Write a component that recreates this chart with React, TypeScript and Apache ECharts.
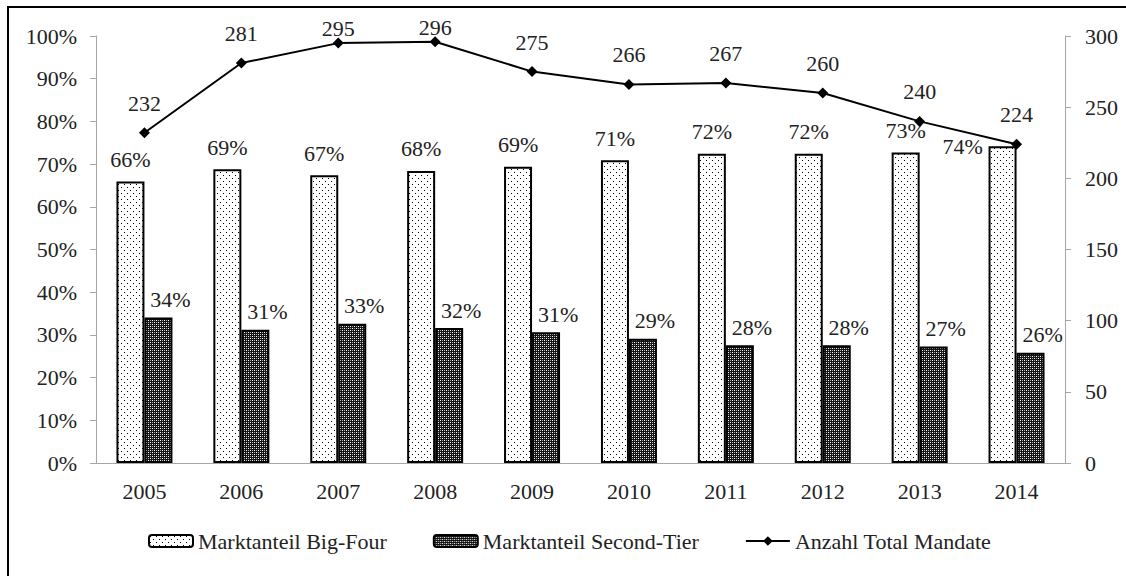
import React, { useEffect, useRef } from 'react';
import * as echarts from 'echarts';

const categories = ['2005', '2006', '2007', '2008', '2009', '2010', '2011', '2012', '2013', '2014'];
const bigFour = [65.9, 68.8, 67.4, 68.4, 69.4, 70.9, 72.4, 72.4, 72.7, 74.2];
const secondTier = [34.1, 31.2, 32.6, 31.6, 30.6, 29.1, 27.6, 27.6, 27.3, 25.8];
const mandates = [232, 281, 295, 296, 275, 266, 267, 260, 240, 224];
const seriesNames = ['Marktanteil Big-Four', 'Marktanteil Second-Tier', 'Anzahl Total Mandate'];

const FONT = "'Liberation Serif', 'Times New Roman', serif";
const FS = 22;
const TEXT = '#222';
const AXIS = '#a6a6a6';

function dotPattern() {
  const c = document.createElement('canvas');
  c.width = 6;
  c.height = 6;
  const ctx = c.getContext('2d')!;
  ctx.fillStyle = '#fff';
  ctx.fillRect(0, 0, 6, 6);
  ctx.fillStyle = '#000';
  ctx.fillRect(1, 1, 1, 1);
  ctx.fillRect(4, 4, 1, 1);
  return c;
}

function hatchPattern() {
  const c = document.createElement('canvas');
  c.width = 4;
  c.height = 4;
  const ctx = c.getContext('2d')!;
  for (let x = 0; x < 4; x++) {
    for (let y = 0; y < 4; y++) {
      let col = '#151515';
      if (x % 2 === 0 && y % 2 === 0) col = (x + y) % 4 === 0 ? '#fff' : '#aaa';
      ctx.fillStyle = col;
      ctx.fillRect(x, y, 1, 1);
    }
  }
  return c;
}

export default function App() {
  const ref = useRef<HTMLDivElement>(null);
  useEffect(() => {
    if (!ref.current) return;
    const chart = echarts.init(ref.current, undefined, { renderer: 'svg' });
    const dots = dotPattern();
    const hatch = hatchPattern();
    const labelBase = { show: true, fontFamily: FONT, fontSize: FS, color: TEXT };
    const bigFourData = bigFour.map((v, i) =>
      i === bigFour.length - 1 ? { value: v, label: { offset: [-40, 22] } } : { value: v }
    );
    // labels near the top of the frame are pushed down so they stay inside it
    const mandateData = mandates.map((v) =>
      v >= 290 ? { value: v, label: { offset: [0, 15] } } : { value: v }
    );
    const option: any = {
      animation: false,
      backgroundColor: '#fff',
      textStyle: { fontFamily: FONT, fontSize: FS, color: TEXT },
      grid: { left: 96, right: 61, top: 36, bottom: 113, containLabel: false },
      legend: {
        left: 143,
        top: 525,
        itemWidth: 44,
        itemHeight: 12,
        itemGap: 46,
        textStyle: { fontFamily: FONT, fontSize: FS, color: TEXT },
        data: seriesNames,
      },
      xAxis: {
        type: 'category',
        data: categories,
        axisLine: { lineStyle: { color: AXIS, width: 1 } },
        axisTick: { alignWithLabel: true, length: 5, lineStyle: { color: AXIS } },
        axisLabel: { margin: 17, fontFamily: FONT, fontSize: FS, color: TEXT },
      },
      yAxis: [
        {
          type: 'value',
          min: 0,
          max: 100,
          interval: 10,
          axisLine: { show: true, lineStyle: { color: AXIS } },
          axisTick: { show: true, length: 6, lineStyle: { color: AXIS } },
          splitLine: { show: false },
          axisLabel: { formatter: '{value}%', margin: 19, fontFamily: FONT, fontSize: FS, color: TEXT },
        },
        {
          type: 'value',
          min: 0,
          max: 300,
          interval: 50,
          position: 'right',
          axisLine: { show: true, lineStyle: { color: AXIS } },
          axisTick: { show: true, length: 6, lineStyle: { color: AXIS } },
          splitLine: { show: false },
          axisLabel: { margin: 20, fontFamily: FONT, fontSize: FS, color: TEXT },
        },
      ],
      series: [
        {
          name: seriesNames[0],
          type: 'bar',
          barWidth: 28,
          barGap: '0%',
          data: bigFourData,
          itemStyle: { color: { image: dots, repeat: 'repeat' }, borderColor: '#000', borderWidth: 2 },
          label: { ...labelBase, position: 'top', distance: 11, formatter: (p: any) => Math.round(p.value) + '%' },
        },
        {
          name: seriesNames[1],
          type: 'bar',
          barWidth: 28,
          barGap: '0%',
          data: secondTier,
          itemStyle: { color: { image: hatch, repeat: 'repeat' }, borderColor: '#000', borderWidth: 2 },
          label: {
            ...labelBase,
            position: 'top',
            distance: 7,
            offset: [12, 0],
            formatter: (p: any) => Math.round(p.value) + '%',
          },
        },
        {
          name: seriesNames[2],
          type: 'line',
          yAxisIndex: 1,
          data: mandateData,
          symbol: 'diamond',
          symbolSize: 11,
          lineStyle: { color: '#000', width: 2 },
          itemStyle: { color: '#000' },
          label: { ...labelBase, position: 'top', distance: 13 },
          z: 5,
        },
      ],
      graphic: [
        {
          type: 'rect',
          silent: true,
          shape: { x: 8, y: 7, width: 1300, height: 700 },
          style: { fill: 'none', stroke: '#000', lineWidth: 2 },
        },
      ],
    };
    chart.setOption(option);
    return () => chart.dispose();
  }, []);
  return (
    <div
      ref={ref}
      style={{ position: 'absolute', left: 0, top: 0, width: 1126, height: 576, background: '#fff' }}
    />
  );
}
